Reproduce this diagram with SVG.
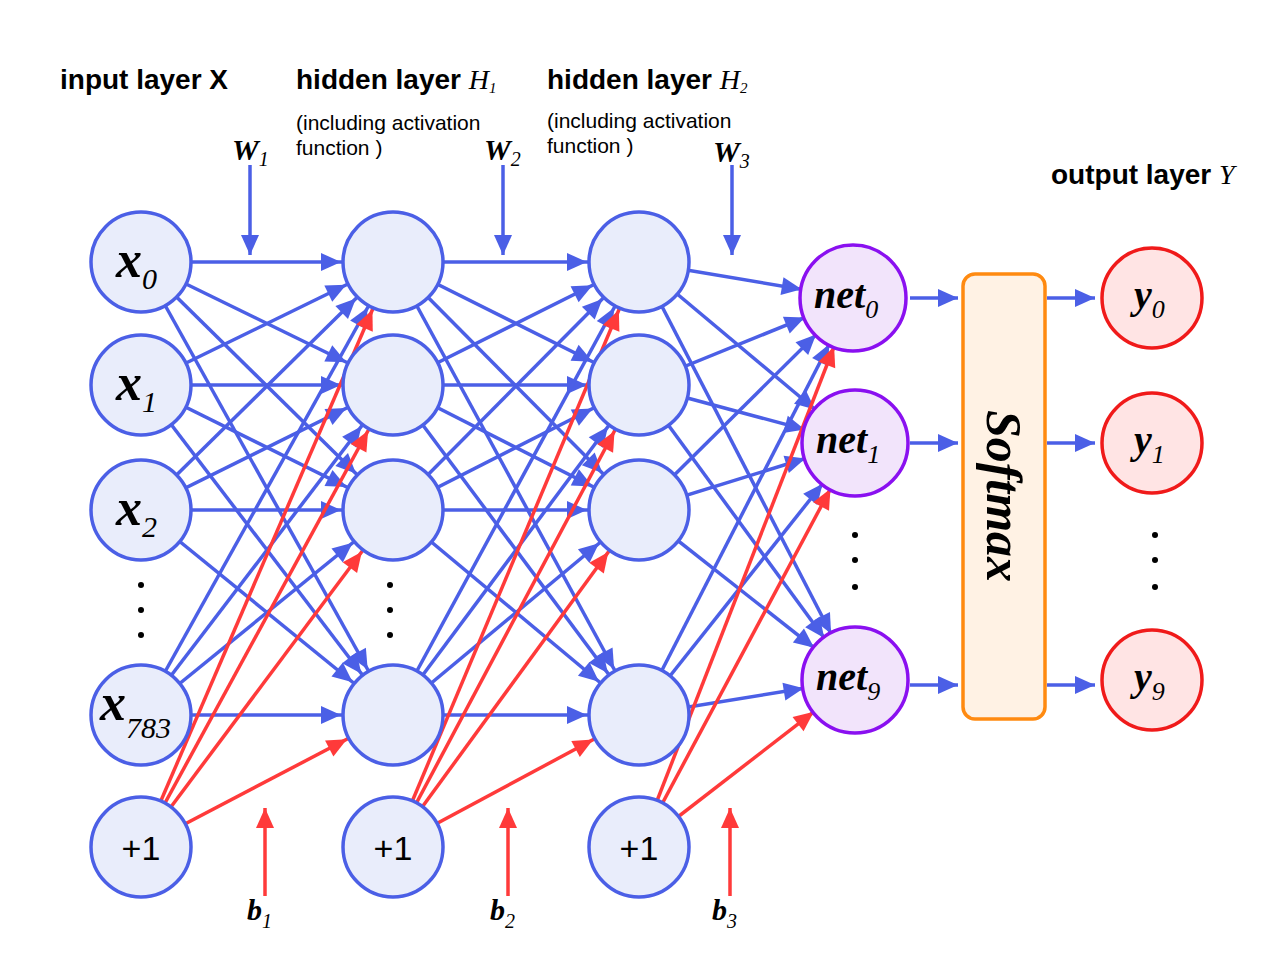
<svg xmlns="http://www.w3.org/2000/svg" width="1274" height="980" viewBox="0 0 1274 980">
<style>
.b{stroke:#4b5fe6;stroke-width:3.5;fill:none;marker-end:url(#ab)}
.r{stroke:#ff3a3a;stroke-width:3.5;fill:none;marker-end:url(#ar)}
.bs{stroke:#4b5fe6;stroke-width:3.5;fill:none;marker-end:url(#abs)}
.rs{stroke:#ff3a3a;stroke-width:3.5;fill:none;marker-end:url(#ars)}
.n{fill:#e9edfb;stroke:#4b5fe6;stroke-width:3.5}
.p{fill:#f2e4fb;stroke:#8a10f0;stroke-width:3.5}
.o{fill:#ffe4e4;stroke:#f01a1a;stroke-width:3.5}
.h{font-family:"Liberation Sans",Arial,sans-serif;font-weight:bold;font-size:28px}
.s{font-family:"Liberation Sans",Arial,sans-serif;font-size:21px}
.one{font-family:"Liberation Sans",Arial,sans-serif;font-size:34px;text-anchor:middle}
.m{font-family:"Liberation Serif","Times New Roman",serif;font-style:italic}
.d{fill:#000}
</style>
<defs>
<marker id="ab" markerUnits="userSpaceOnUse" markerWidth="10" markerHeight="10" orient="auto" overflow="visible"><path d="M-52,0 L-72,-9 L-72,9 z" fill="#4b5fe6"/></marker>
<marker id="ar" markerUnits="userSpaceOnUse" markerWidth="10" markerHeight="10" orient="auto" overflow="visible"><path d="M-52,0 L-72,-9 L-72,9 z" fill="#ff3a3a"/></marker>
<marker id="abs" markerUnits="userSpaceOnUse" markerWidth="10" markerHeight="10" orient="auto" overflow="visible"><path d="M0,0 L-20,-9 L-20,9 z" fill="#4b5fe6"/></marker>
<marker id="ars" markerUnits="userSpaceOnUse" markerWidth="10" markerHeight="10" orient="auto" overflow="visible"><path d="M0,0 L-20,-9 L-20,9 z" fill="#ff3a3a"/></marker>
</defs>
<rect width="1274" height="980" fill="#fff"/>
<text class="h" x="60" y="89">input layer X</text>
<text class="h" x="296" y="89">hidden layer <tspan class="m" font-weight="normal" style="font-size:28px">H</tspan><tspan class="m" font-weight="normal" style="font-size:15px" dy="4">1</tspan></text>
<text class="h" x="547" y="89">hidden layer <tspan class="m" font-weight="normal" style="font-size:28px">H</tspan><tspan class="m" font-weight="normal" style="font-size:15px" dy="4">2</tspan></text>
<text class="h" x="1051" y="184">output layer <tspan class="m" font-weight="normal">Y</tspan></text>
<text class="s" x="296" y="130">(including activation</text>
<text class="s" x="296" y="155">function )</text>
<text class="s" x="547" y="128">(including activation</text>
<text class="s" x="547" y="153">function )</text>
<g class="m" font-size="30" font-weight="bold">
<text x="232" y="160">W<tspan font-size="20" font-weight="normal" dy="6">1</tspan></text>
<text x="484" y="160">W<tspan font-size="20" font-weight="normal" dy="6">2</tspan></text>
<text x="713" y="162">W<tspan font-size="20" font-weight="normal" dy="6">3</tspan></text>
<text x="247" y="920">b<tspan font-size="20" font-weight="normal" dy="8">1</tspan></text>
<text x="490" y="920">b<tspan font-size="20" font-weight="normal" dy="8">2</tspan></text>
<text x="712" y="920">b<tspan font-size="20" font-weight="normal" dy="8">3</tspan></text>
</g>
<g id="connectors">
<path class="bs" d="M250,165V255"/><path class="bs" d="M503,165V255"/><path class="bs" d="M732,165V255"/>
<path class="rs" d="M265,896V808"/><path class="rs" d="M508,896V808"/><path class="rs" d="M730,896V808"/>
<line class="b" x1="141" y1="262" x2="393" y2="262"/><line class="b" x1="141" y1="262" x2="393" y2="385"/><line class="b" x1="141" y1="262" x2="393" y2="510"/><line class="b" x1="141" y1="262" x2="393" y2="715"/>
<line class="b" x1="141" y1="385" x2="393" y2="262"/><line class="b" x1="141" y1="385" x2="393" y2="385"/><line class="b" x1="141" y1="385" x2="393" y2="510"/><line class="b" x1="141" y1="385" x2="393" y2="715"/>
<line class="b" x1="141" y1="510" x2="393" y2="262"/><line class="b" x1="141" y1="510" x2="393" y2="385"/><line class="b" x1="141" y1="510" x2="393" y2="510"/><line class="b" x1="141" y1="510" x2="393" y2="715"/>
<line class="b" x1="141" y1="715" x2="393" y2="262"/><line class="b" x1="141" y1="715" x2="393" y2="385"/><line class="b" x1="141" y1="715" x2="393" y2="510"/><line class="b" x1="141" y1="715" x2="393" y2="715"/>
<line class="r" x1="141" y1="847" x2="393" y2="262"/><line class="r" x1="141" y1="847" x2="393" y2="385"/><line class="r" x1="141" y1="847" x2="393" y2="510"/><line class="r" x1="141" y1="847" x2="393" y2="715"/>
<line class="b" x1="393" y1="262" x2="639" y2="262"/><line class="b" x1="393" y1="262" x2="639" y2="385"/><line class="b" x1="393" y1="262" x2="639" y2="510"/><line class="b" x1="393" y1="262" x2="639" y2="715"/>
<line class="b" x1="393" y1="385" x2="639" y2="262"/><line class="b" x1="393" y1="385" x2="639" y2="385"/><line class="b" x1="393" y1="385" x2="639" y2="510"/><line class="b" x1="393" y1="385" x2="639" y2="715"/>
<line class="b" x1="393" y1="510" x2="639" y2="262"/><line class="b" x1="393" y1="510" x2="639" y2="385"/><line class="b" x1="393" y1="510" x2="639" y2="510"/><line class="b" x1="393" y1="510" x2="639" y2="715"/>
<line class="b" x1="393" y1="715" x2="639" y2="262"/><line class="b" x1="393" y1="715" x2="639" y2="385"/><line class="b" x1="393" y1="715" x2="639" y2="510"/><line class="b" x1="393" y1="715" x2="639" y2="715"/>
<line class="r" x1="393" y1="847" x2="639" y2="262"/><line class="r" x1="393" y1="847" x2="639" y2="385"/><line class="r" x1="393" y1="847" x2="639" y2="510"/><line class="r" x1="393" y1="847" x2="639" y2="715"/>
<line class="b" x1="639" y1="262" x2="853" y2="298"/><line class="b" x1="639" y1="262" x2="855" y2="443"/><line class="b" x1="639" y1="262" x2="855" y2="680"/>
<line class="b" x1="639" y1="385" x2="853" y2="298"/><line class="b" x1="639" y1="385" x2="855" y2="443"/><line class="b" x1="639" y1="385" x2="855" y2="680"/>
<line class="b" x1="639" y1="510" x2="853" y2="298"/><line class="b" x1="639" y1="510" x2="855" y2="443"/><line class="b" x1="639" y1="510" x2="855" y2="680"/>
<line class="b" x1="639" y1="715" x2="853" y2="298"/><line class="b" x1="639" y1="715" x2="855" y2="443"/><line class="b" x1="639" y1="715" x2="855" y2="680"/>
<line class="r" x1="639" y1="847" x2="853" y2="298"/><line class="r" x1="639" y1="847" x2="855" y2="443"/><line class="r" x1="639" y1="847" x2="855" y2="680"/>
<line class="bs" x1="910" y1="298" x2="958" y2="298"/><line class="bs" x1="910" y1="443" x2="958" y2="443"/><line class="bs" x1="910" y1="685" x2="958" y2="685"/>
<line class="bs" x1="1047" y1="298" x2="1095" y2="298"/><line class="bs" x1="1047" y1="443" x2="1095" y2="443"/><line class="bs" x1="1047" y1="685" x2="1095" y2="685"/>
</g>
<g id="input">
<g id="x0"><circle class="n" cx="141" cy="262" r="50"/><text class="m" x="116" y="277" font-size="52" font-weight="bold">x<tspan font-size="30" font-weight="normal" dy="12">0</tspan></text></g>
<g id="x1"><circle class="n" cx="141" cy="385" r="50"/><text class="m" x="116" y="400" font-size="52" font-weight="bold">x<tspan font-size="30" font-weight="normal" dy="12">1</tspan></text></g>
<g id="x2"><circle class="n" cx="141" cy="510" r="50"/><text class="m" x="116" y="525" font-size="52" font-weight="bold">x<tspan font-size="30" font-weight="normal" dy="12">2</tspan></text></g>
<g id="x783"><circle class="n" cx="141" cy="715" r="50"/><text class="m" x="100" y="720" font-size="52" font-weight="bold">x<tspan font-size="30" font-weight="normal" dy="18">783</tspan></text></g>
<g id="bias1"><circle class="n" cx="141" cy="847" r="50"/><text class="one" x="141" y="860">+1</text></g>
<g class="d"><circle cx="141" cy="585" r="3"/><circle cx="141" cy="610" r="3"/><circle cx="141" cy="635" r="3"/></g>
</g>
<g id="h1">
<circle class="n" cx="393" cy="262" r="50"/><circle class="n" cx="393" cy="385" r="50"/><circle class="n" cx="393" cy="510" r="50"/><circle class="n" cx="393" cy="715" r="50"/>
<g id="bias2"><circle class="n" cx="393" cy="847" r="50"/><text class="one" x="393" y="860">+1</text></g>
<g class="d"><circle cx="390" cy="585" r="3"/><circle cx="390" cy="610" r="3"/><circle cx="390" cy="635" r="3"/></g>
</g>
<g id="h2">
<circle class="n" cx="639" cy="262" r="50"/><circle class="n" cx="639" cy="385" r="50"/><circle class="n" cx="639" cy="510" r="50"/><circle class="n" cx="639" cy="715" r="50"/>
<g id="bias3"><circle class="n" cx="639" cy="847" r="50"/><text class="one" x="639" y="860">+1</text></g>
</g>
<g id="net">
<g id="net0"><circle class="p" cx="853" cy="298" r="53"/><text class="m" x="814" y="308" font-size="40" font-weight="bold">net<tspan font-size="26" font-weight="normal" dy="10">0</tspan></text></g>
<g id="net1"><circle class="p" cx="855" cy="443" r="53"/><text class="m" x="816" y="453" font-size="40" font-weight="bold">net<tspan font-size="26" font-weight="normal" dy="10">1</tspan></text></g>
<g id="net9"><circle class="p" cx="855" cy="680" r="53"/><text class="m" x="816" y="690" font-size="40" font-weight="bold">net<tspan font-size="26" font-weight="normal" dy="10">9</tspan></text></g>
<g class="d"><circle cx="855" cy="535" r="3"/><circle cx="855" cy="560" r="3"/><circle cx="855" cy="587" r="3"/></g>
</g>
<g id="softmax"><rect x="963" y="274" width="82" height="445" rx="12" fill="#fff2e4" stroke="#ff8a10" stroke-width="3.5"/>
<text class="m" font-size="50" font-weight="bold" text-anchor="middle" transform="translate(1004,496) rotate(90)" dy="17">Softmax</text></g>
<g id="output">
<g id="y0"><circle class="o" cx="1152" cy="298" r="50"/><text class="m" x="1134" y="308" font-size="40" font-weight="bold">y<tspan font-size="26" font-weight="normal" dy="10">0</tspan></text></g>
<g id="y1"><circle class="o" cx="1152" cy="443" r="50"/><text class="m" x="1134" y="453" font-size="40" font-weight="bold">y<tspan font-size="26" font-weight="normal" dy="10">1</tspan></text></g>
<g id="y9"><circle class="o" cx="1152" cy="680" r="50"/><text class="m" x="1134" y="690" font-size="40" font-weight="bold">y<tspan font-size="26" font-weight="normal" dy="10">9</tspan></text></g>
<g class="d"><circle cx="1155" cy="535" r="3"/><circle cx="1155" cy="560" r="3"/><circle cx="1155" cy="587" r="3"/></g>
</g>
</svg>
